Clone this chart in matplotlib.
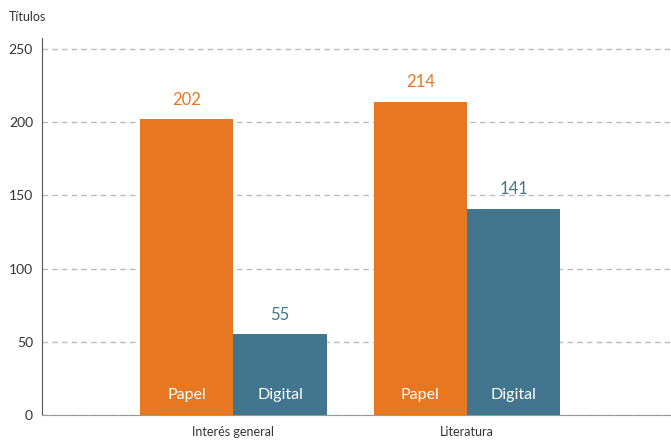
import matplotlib.pyplot as plt
import numpy as np

plt.rcParams['font.family'] = ['Lato', 'DejaVu Sans']

categories = ['Interés general', 'Literatura']
papel = [202, 214]
digital = [55, 141]
series_names = ['Papel', 'Digital']
colors = ['#E87722', '#41768E']

fig = plt.figure(figsize=(6.71, 4.41), dpi=100)
ax = fig.add_axes([42 / 671, 26 / 441, 628 / 671, 377 / 441])

x = np.arange(len(categories))
w = 0.4
for vals, name, col, off in [(papel, series_names[0], colors[0], -w / 2),
                             (digital, series_names[1], colors[1], w / 2)]:
    bars = ax.bar(x + off, vals, width=w, color=col, zorder=3)
    for b, v in zip(bars, vals):
        cx = b.get_x() + b.get_width() / 2
        ax.text(cx, v + 8, str(v), ha='center', va='bottom', color=col, fontsize=12)
        ax.text(cx, 14, name, ha='center', va='center', color='white', fontsize=11.5, zorder=4)

ax.set_xlim(-0.82, 1.87)
ax.set_ylim(0, 257.5)
ax.set_yticks([0, 50, 100, 150, 200, 250])
ax.set_xticks(x)
ax.set_xticklabels(categories, fontsize=9, color='#333333')
ax.tick_params(axis='both', length=0)
ax.tick_params(axis='y', labelsize=10, labelcolor='#333333', pad=6.5)
ax.tick_params(axis='x', pad=8)
ax.yaxis.grid(True, linestyle=(0, (4, 3)), color='#bbbbbb', linewidth=1)
ax.set_axisbelow(True)
for s in ['top', 'right']:
    ax.spines[s].set_visible(False)
ax.spines['left'].set_color('#555555')
ax.spines['bottom'].set_color('#999999')

fig.text(9 / 671, 1 - 17 / 441, 'Títulos', fontsize=9, color='#333333', va='center')

fig.savefig('out.png', dpi=100)
